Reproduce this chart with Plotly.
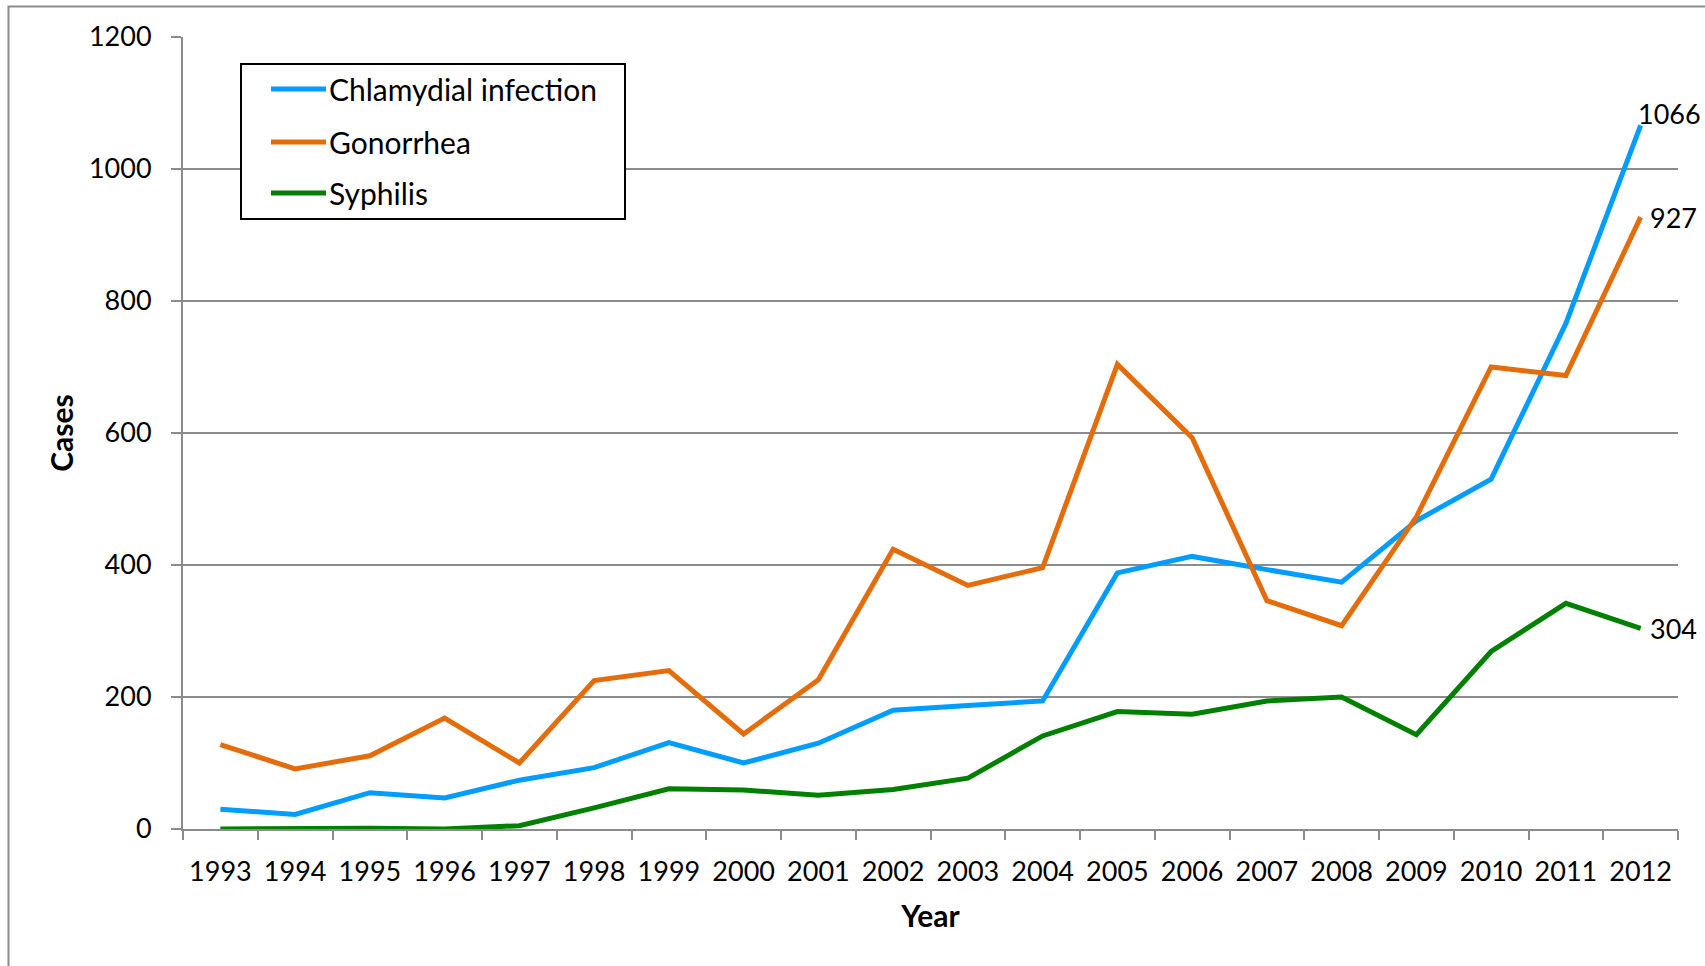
import plotly.graph_objects as go

# Reported cases per year
years = [str(y) for y in range(1993, 2013)]
chlamydia = [30, 22, 55, 47, 74, 93, 131, 100, 130, 180, 187, 194, 388, 413, 393, 374, 467, 530, 766, 1066]
gonorrhea = [128, 91, 111, 168, 100, 225, 240, 144, 226, 424, 369, 396, 704, 593, 346, 308, 473, 700, 687, 927]
syphilis = [0, 1, 1, 0, 5, 32, 61, 59, 51, 60, 77, 141, 178, 174, 194, 200, 143, 269, 342, 304]

series_names = ["Chlamydial infection", "Gonorrhea", "Syphilis"]
series_values = [chlamydia, gonorrhea, syphilis]
series_colors = ["#009DFF", "#E46C0A", "#008000"]

y_ticks = [0, 200, 400, 600, 800, 1000, 1200]

FONT = "Lato, 'Open Sans', sans-serif"
GRID = "#8C8C8C"

# Figure / plot-area geometry in pixels
W, H = 1705, 966
ML, MR, MT, MB = 183, 27, 37, 137
PW, PH = W - ML - MR, H - MT - MB


def px_x(px):
    return (px - ML) / PW


def px_y(py):
    return (H - MB - py) / PH


fig = go.Figure()
for name, vals, col in zip(series_names, series_values, series_colors):
    fig.add_trace(go.Scatter(
        x=years, y=vals, name=name, mode="lines",
        line=dict(color=col, width=5),
        cliponaxis=False, showlegend=False,
    ))

# End-of-line value labels, taken from the last point of each series
# (category axes place annotations by category index)
last_idx = len(years) - 1
label_shifts = {0: (-5, 12), 1: (7, 0), 2: (7, 0)}
for i, vals in enumerate(series_values):
    dx, dy = label_shifts[i]
    fig.add_annotation(
        x=last_idx, y=vals[-1], text=str(vals[-1]), showarrow=False,
        xanchor="left", yanchor="middle", xshift=dx, yshift=dy,
        font=dict(family=FONT, size=27, color="black"),
    )

# Outer chart frame
fig.add_shape(type="rect", xref="paper", yref="paper",
              x0=px_x(8.5), x1=1.3, y0=-0.5, y1=px_y(6.5),
              line=dict(color=GRID, width=2), layer="below")

# Boxed legend in the upper-left corner of the plot area
fig.add_shape(type="rect", xref="paper", yref="paper",
              x0=px_x(241), x1=px_x(625), y0=px_y(219), y1=px_y(64),
              line=dict(color="black", width=2), fillcolor="white", layer="above")
row_y = [89, 142, 193]
for name, col, ry in zip(series_names, series_colors, row_y):
    fig.add_shape(type="line", xref="paper", yref="paper",
                  x0=px_x(271), x1=px_x(326), y0=px_y(ry), y1=px_y(ry),
                  line=dict(color=col, width=5), layer="above")
    fig.add_annotation(
        xref="paper", yref="paper", x=px_x(327), y=px_y(ry),
        text=name, showarrow=False, xanchor="left", yanchor="middle",
        font=dict(family=FONT, size=30, color="black"),
    )

fig.update_layout(
    width=W, height=H,
    margin=dict(l=ML, r=MR, t=MT, b=MB),
    paper_bgcolor="white", plot_bgcolor="white",
    font=dict(family=FONT, size=27, color="black"),
    showlegend=False,
    xaxis=dict(
        type="category", range=[-0.5, 19.5],
        showgrid=False, showline=True, linecolor=GRID, linewidth=2,
        ticks="outside", tickson="boundaries", ticklen=9, tickwidth=2, tickcolor=GRID,
        tickfont=dict(family=FONT, size=27),
        ticklabelstandoff=18,
        title=dict(text="<b>Year</b>", font=dict(family=FONT, size=30), standoff=20),
    ),
    yaxis=dict(
        range=[0, 1200], tickvals=y_ticks,
        showgrid=True, gridcolor=GRID, gridwidth=2,
        showline=True, linecolor=GRID, linewidth=2,
        zeroline=False,
        ticks="outside", ticklen=10, tickwidth=2, tickcolor=GRID,
        tickfont=dict(family=FONT, size=27),
        ticklabelstandoff=14,
        title=dict(text="<b>Cases</b>", font=dict(family=FONT, size=30), standoff=6),
    ),
)

fig.write_html("out.html")
